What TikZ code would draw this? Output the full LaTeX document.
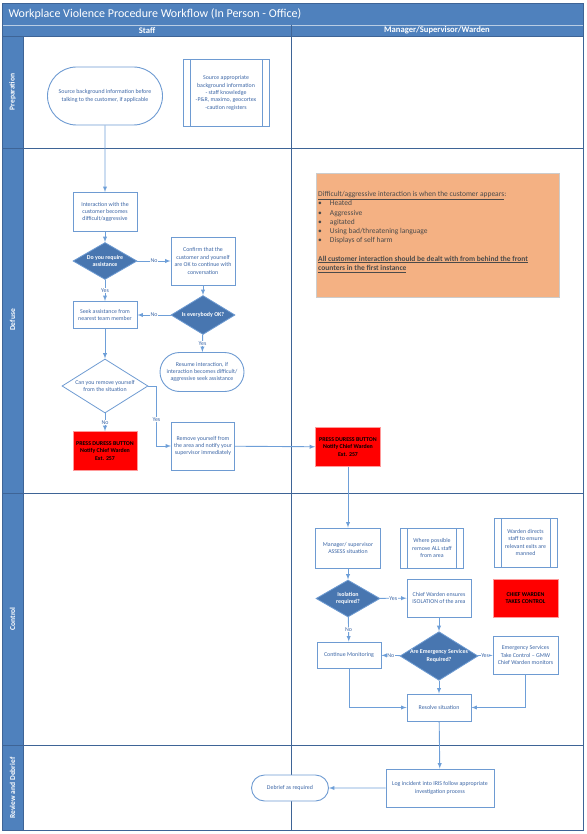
\documentclass[tikz,border=0pt]{standalone}
\usepackage{fontspec}
\setmainfont{Carlito}
\usepackage{tikz}
\usetikzlibrary{arrows,shapes.geometric,shapes.misc}

\definecolor{lanebg}{HTML}{4F81BD}
\definecolor{gridline}{HTML}{3E6496}
\definecolor{boxline}{HTML}{6E9BD2}
\definecolor{boxtext}{HTML}{3C66A6}
\definecolor{decision}{HTML}{4876B0}
\definecolor{flowline}{HTML}{6E9FD8}
\definecolor{infofill}{HTML}{F4B183}
\definecolor{infotext}{HTML}{4A4A4A}

\newcommand{\boxfont}{\fontsize{5.9}{7.4}\selectfont}

\tikzset{
  procbox/.style={draw=boxline, line width=0.9pt, fill=white, text=boxtext, font=\boxfont, align=center, inner sep=1pt},
  predef/.style={procbox, path picture={
      \draw[boxline, line width=0.7pt] ([xshift=7pt]path picture bounding box.north west) -- ([xshift=7pt]path picture bounding box.south west);
      \draw[boxline, line width=0.7pt] ([xshift=-7pt]path picture bounding box.north east) -- ([xshift=-7pt]path picture bounding box.south east);}},
  termbox/.style={procbox, rounded rectangle, inner sep=0pt},
  choice/.style={diamond, aspect=1.6, draw=boxline, line width=0.8pt, fill=decision, text=white, font=\boxfont\bfseries, align=center, inner sep=0pt},
  openchoice/.style={choice, fill=white, text=boxtext, font=\boxfont},
  alarm/.style={draw=red!40, line width=0.6pt, fill=red, text=black, font=\boxfont\bfseries, align=center, inner sep=1pt},
  flow/.style={draw=flowline, line width=0.9pt, -latex},
  answer/.style={fill=white, text=boxtext, font=\boxfont, inner sep=0.5pt},
  lanetitle/.style={text=white, font=\fontsize{8.6}{10}\selectfont\bfseries},
  rowtitle/.style={text=white, rotate=90, font=\fontsize{7.5}{9}\selectfont\bfseries},
}

\begin{document}
\begin{tikzpicture}[x=1pt,y=-1pt]
        \useasboundingbox (0,0) rectangle (586,834);

        % Swimlane frame
        \fill[lanebg] (2,3) rectangle (583,36);
        \fill[lanebg] (2,36) rectangle (23,830);
        \draw[white!60!lanebg, line width=0.6pt] (2,25) -- (583,25);
        \draw[gridline, line width=0.8pt] (2,36) -- (583,36);
        \draw[gridline, line width=0.8pt] (2,148) -- (583,148);
        \draw[gridline, line width=0.8pt] (2,493) -- (583,493);
        \draw[gridline, line width=0.8pt] (2,745) -- (583,745);
        \draw[gridline, line width=0.8pt] (291,25) -- (291,830);
        \draw[gridline, line width=0.8pt] (23,36) -- (23,830);
        \draw[gridline, line width=0.9pt] (2,3) rectangle (583,830);

        % Title, lanes and phases
        \node[text=white, anchor=west, font=\fontsize{12}{14}\selectfont] (title) at (5,14) {Workplace Violence Procedure Workflow (In Person - Office)};
        \node[lanetitle] (stafflane) at (147,30.5) {Staff};
        \node[lanetitle] (managerlane) at (437,30.5) {Manager/Supervisor/Warden};
        \node[rowtitle] (preprow) at (12.5,92) {Preparation};
        \node[rowtitle] (defuserow) at (12.5,320) {Defuse};
        \node[rowtitle] (controlrow) at (12.5,619) {Control};
        \node[rowtitle] (reviewrow) at (12.5,788) {Review and Debrief};

        % Preparation
        \node[termbox, minimum width=115pt, minimum height=58pt] (prepsrc) at (105,96) {Source background information before\\talking to the customer, if applicable};
        \node[predef, minimum width=86pt, minimum height=67pt] (prepinfo) at (226,93) {Source appropriate\\background information\\- staff knowledge\\-P\&R, maximo, geocortex\\-caution registers};

        % Defuse - staff
        \node[procbox, minimum width=64pt, minimum height=39pt] (interact) at (105,212) {Interaction with the\\customer becomes\\difficult/aggressive};
        \node[choice, minimum width=64pt, minimum height=37pt] (needhelp) at (105,261) {Do you require\\assistance};
        \node[procbox, minimum width=64pt, minimum height=48pt] (confirm) at (203,261) {Confirm that the\\customer and yourself\\are OK to continue with\\conversation};
        \node[choice, minimum width=64pt, minimum height=39pt] (allok) at (203,315) {Is everybody OK?};
        \node[procbox, minimum width=64pt, minimum height=27pt] (seekhelp) at (105,315) {Seek assistance from\\nearest team member};
        \node[termbox, minimum width=84pt, minimum height=39pt] (resume) at (202,372) {Resume interaction, if\\interaction becomes difficult/\\aggressive seek assistance};
        \node[openchoice, minimum width=86pt, minimum height=54pt] (canleave) at (105,386) {Can you remove yourself\\from the situation};
        \node[alarm, minimum width=64pt, minimum height=39pt] (duress) at (105,451) {PRESS DURESS BUTTON\\Notify Chief Warden\\Ext. 257};
        \node[procbox, minimum width=63pt, minimum height=48pt] (leavearea) at (203,446) {Remove yourself from\\the area and notify your\\supervisor immediately};

        % Defuse - manager
        \node[alarm, minimum width=65pt, minimum height=39pt] (duresswarden) at (348,447) {PRESS DURESS BUTTON\\Notify Chief Warden\\Ext. 257};
        \node[draw=black!20, line width=0.8pt, fill=infofill, minimum width=243pt, minimum height=124pt] (infobox) at (437.5,235) {};
        \node[anchor=north west, text=infotext, align=left, inner sep=0pt, font=\fontsize{7.5}{9.3}\selectfont] (infonote) at (318,191) {\underline{Difficult/aggressive interaction is when the customer appears}:\\
          \textbullet\hspace{8pt}Heated\\
          \textbullet\hspace{8pt}Aggressive\\
          \textbullet\hspace{8pt}agitated\\
          \textbullet\hspace{8pt}Using bad/threatening language\\
          \textbullet\hspace{8pt}Displays of self harm\\[9pt]
          \textbf{\underline{All customer interaction should be dealt with from behind the front}}\\
          \textbf{\underline{counters in the first instance}}};

        % Control
        \node[procbox, minimum width=65pt, minimum height=40pt] (assess) at (348,548) {Manager/ supervisor\\ASSESS situation};
        \node[predef, minimum width=63pt, minimum height=40pt] (clearstaff) at (432,548) {Where possible\\remove ALL staff\\from area};
        \node[predef, minimum width=63pt, minimum height=49pt] (exits) at (525.5,542.5) {Warden directs\\staff to ensure\\relevant exits are\\manned};
        \node[choice, minimum width=64pt, minimum height=37pt] (isolq) at (348,598.5) {Isolation\\required?};
        \node[procbox, minimum width=64pt, minimum height=38pt] (isolate) at (439,598) {Chief Warden ensures\\ISOLATION of the area};
        \node[alarm, minimum width=65pt, minimum height=38pt] (cwcontrol) at (525.5,598) {CHIEF WARDEN\\TAKES CONTROL};
        \node[choice, minimum width=76pt, minimum height=48pt] (emergq) at (439,656) {Are Emergency Services\\Required?};
        \node[procbox, minimum width=64pt, minimum height=26pt] (monitor) at (349,655) {Continue Monitoring};
        \node[procbox, minimum width=65pt, minimum height=38pt] (emergsvc) at (525.5,655) {Emergency Services\\Take Control -- GMW\\Chief Warden monitors};
        \node[procbox, minimum width=64pt, minimum height=27pt] (resolve) at (439,707.5) {Resolve situation};

        % Review and debrief
        \node[procbox, minimum width=108pt, minimum height=38pt] (logirs) at (440,788) {Log incident into IRIS follow appropriate\\investigation process};
        \node[termbox, minimum width=77pt, minimum height=26pt] (debrief) at (290,788) {Debrief as required};

        % Connectors
        \draw[flow] (prepsrc) -- (interact);
        \draw[flow] (interact) -- (needhelp);
        \draw[flow] (needhelp) -- node[answer] {No} (confirm);
        \draw[flow] (needhelp) -- node[answer] {Yes} (seekhelp);
        \draw[flow] (confirm) -- (allok);
        \draw[flow] (allok) -- node[answer] {No} (seekhelp);
        \draw[flow] (allok) -- node[answer] {Yes} (resume);
        \draw[flow] (seekhelp) -- (canleave);
        \draw[flow] (canleave) -- node[answer] {No} (duress);
        \draw[flow] (canleave.east) -- ++(8,0) |- node[answer, pos=0.28] {Yes} (leavearea.west);
        \draw[flow] (leavearea) -- (duresswarden);
        \draw[flow] (duresswarden) -- (assess);
        \draw[flow] (assess) -- (isolq);
        \draw[flow] (isolq) -- node[answer] {Yes} (isolate);
        \draw[flow] (isolq) -- node[answer] {No} (monitor);
        \draw[flow] (isolate) -- (emergq);
        \draw[flow] (emergq) -- node[answer] {No} (monitor);
        \draw[flow] (emergq) -- node[answer] {Yes} (emergsvc);
        \draw[flow] (emergq) -- (resolve);
        \draw[flow] (monitor.south) |- (resolve.west);
        \draw[flow] (emergsvc.south) |- (resolve.east);
        \draw[flow] (resolve) -- (logirs);
        \draw[flow] (logirs) -- (debrief);
\end{tikzpicture}
\end{document}
